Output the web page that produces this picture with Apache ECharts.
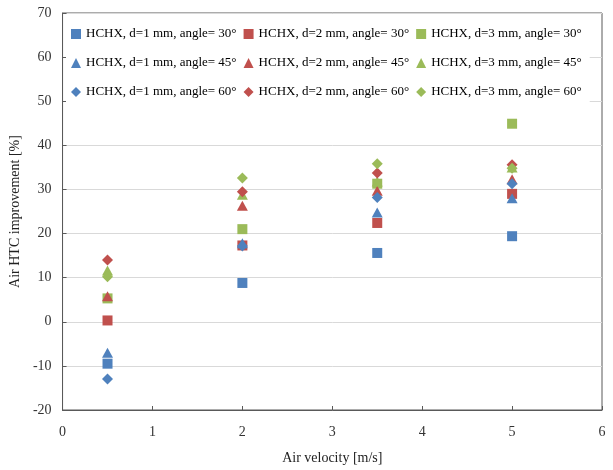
<!DOCTYPE html>
<html>
<head>
<meta charset="utf-8">
<script src="https://cdn.jsdelivr.net/npm/echarts@6/dist/echarts.min.js"></script>
<style>
  html, body { margin: 0; padding: 0; background: #fff; }
  #chart { width: 613px; height: 470px; }
</style>
</head>
<body>
<div id="chart"></div>
<script>
// Air velocity [m/s] at which each configuration was tested
const velocities = [0.5, 2, 3.5, 5];

// Air HTC improvement [%] per configuration
const d1_a30 = [-9.5, 8.8, 15.6, 19.4];
const d2_a30 = [0.3, 17.3, 22.4, 29.0];
const d3_a30 = [5.3, 21.0, 31.3, 44.9];
const d1_a45 = [-7.0, 17.8, 24.8, 28.0];
const d2_a45 = [5.8, 26.3, 29.7, 32.3];
const d3_a45 = [11.6, 28.8, 31.8, 35.0];
const d1_a60 = [-13.0, 17.2, 28.2, 31.3];
const d2_a60 = [14.0, 29.5, 33.7, 35.6];
const d3_a60 = [10.2, 32.6, 35.8, 34.8];

const seriesNames = [
  'HCHX, d=1 mm, angle= 30°', 'HCHX, d=2 mm, angle= 30°', 'HCHX, d=3 mm, angle= 30°',
  'HCHX, d=1 mm, angle= 45°', 'HCHX, d=2 mm, angle= 45°', 'HCHX, d=3 mm, angle= 45°',
  'HCHX, d=1 mm, angle= 60°', 'HCHX, d=2 mm, angle= 60°', 'HCHX, d=3 mm, angle= 60°'
];
const seriesValues = [d1_a30, d2_a30, d3_a30, d1_a45, d2_a45, d3_a45, d1_a60, d2_a60, d3_a60];

const xTicks = { min: 0, max: 6, interval: 1 };
const yTicks = { min: -20, max: 70, interval: 10 };

const colors = ['#4F81BD', '#C0504D', '#9BBB59'];
const symbols = ['rect', 'triangle', 'diamond'];
const symbolSizes = [10, [11, 10], [11, 11]];
const serif = "'Liberation Serif', 'Times New Roman', serif";

const series = seriesValues.map((vals, i) => {
  const shape = Math.floor(i / 3);
  return {
    name: seriesNames[i],
    type: 'scatter',
    data: velocities.map((v, k) => [v, vals[k]]),
    symbol: symbols[shape],
    symbolSize: symbolSizes[shape],
    itemStyle: { color: colors[i % 3], opacity: 1 },
    emphasis: { disabled: true }
  };
});

const chart = echarts.init(document.getElementById('chart'), null, { renderer: 'canvas' });
chart.setOption({
  animation: false,
  backgroundColor: '#fff',
  textStyle: { fontFamily: serif },
  grid: { left: 61, right: 11, top: 13, bottom: 60, show: true, borderColor: '#595959', borderWidth: 1 },
  legend: {
    left: 66, top: 17, width: 525,
    orient: 'horizontal',
    itemWidth: 10, itemHeight: 10, itemGap: 7,
    padding: [6, 8, 6, 5],
    backgroundColor: '#fff',
    selectedMode: false,
    data: seriesNames.map((n, i) => ({ name: n, icon: symbols[Math.floor(i / 3)] })),
    textStyle: { fontFamily: serif, fontSize: 13, color: '#000', lineHeight: 22 }
  },
  xAxis: {
    type: 'value',
    min: xTicks.min, max: xTicks.max, interval: xTicks.interval,
    name: 'Air velocity [m/s]', nameLocation: 'middle', nameGap: 41,
    nameTextStyle: { fontFamily: serif, fontSize: 14, color: '#222' },
    axisLine: { show: true, onZero: false, lineStyle: { color: '#595959', width: 1 } },
    axisTick: { show: true, inside: true, length: 4, lineStyle: { color: '#595959' } },
    axisLabel: { fontFamily: serif, fontSize: 14, color: '#333', margin: 15 },
    splitLine: { show: false }
  },
  yAxis: {
    type: 'value',
    min: yTicks.min, max: yTicks.max, interval: yTicks.interval,
    name: 'Air HTC improvement [%]', nameLocation: 'middle', nameGap: 32,
    nameTextStyle: { fontFamily: serif, fontSize: 14, color: '#222' },
    axisLine: { show: true, onZero: false, lineStyle: { color: '#595959', width: 1 } },
    axisTick: { show: true, inside: true, length: 4, lineStyle: { color: '#595959' } },
    axisLabel: { fontFamily: serif, fontSize: 14, color: '#333', margin: 11 },
    splitLine: { show: true, lineStyle: { color: '#D9D9D9', width: 1 } }
  },
  series: series
});
</script>
</body>
</html>
